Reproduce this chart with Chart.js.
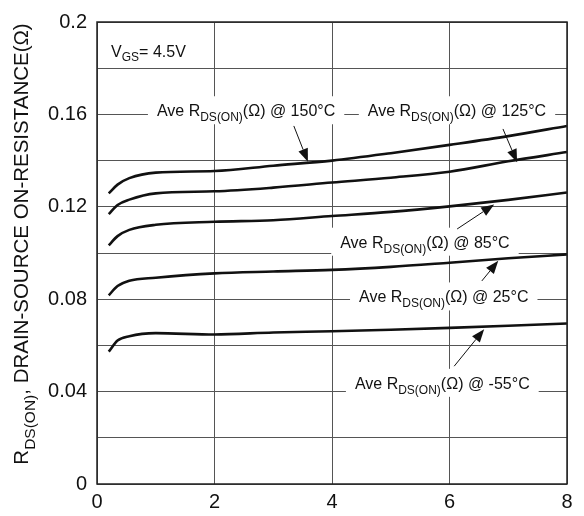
<!DOCTYPE html>
<html>
<head>
<meta charset="utf-8">
<script src="https://cdn.jsdelivr.net/npm/chart.js@4.4.0/dist/chart.umd.min.js"></script>
<style>
  html, body { margin: 0; padding: 0; background: #fff; }
  #wrap { width: 584px; height: 516px; }
</style>
</head>
<body>
<div id="wrap"><canvas id="chart" width="584" height="516"></canvas></div>
<script>
// drain current sample points (x axis) shared by every curve
const currentA = [0.2, 0.35, 0.55, 1, 2, 3, 4, 5, 6, 7, 8];

// Ave RDS(ON) in ohms
const r150 = [0.1258, 0.1296, 0.1324, 0.1348, 0.1355, 0.1378, 0.1400, 0.1432, 0.1468, 0.1506, 0.1550];
const r125 = [0.1168, 0.1208, 0.1231, 0.1258, 0.1267, 0.1283, 0.1305, 0.1326, 0.1352, 0.1397, 0.1437];
const r85  = [0.1033, 0.1073, 0.1100, 0.1122, 0.1135, 0.1142, 0.1160, 0.1178, 0.1202, 0.1230, 0.1262];
const r25  = [0.0817, 0.0857, 0.0880, 0.0893, 0.0912, 0.0920, 0.0927, 0.0940, 0.0958, 0.0977, 0.0994];
const rM55 = [0.0573, 0.0621, 0.0640, 0.0653, 0.0647, 0.0656, 0.0661, 0.0668, 0.0676, 0.0685, 0.0695];

const temps = ['150°C', '125°C', '85°C', '25°C', '-55°C'];
const seriesValues = [r150, r125, r85, r25, rM55];

// where each callout sits, in axis units (text start / baseline, arrow tail, arrow tip)
const labelX = [1.02, 4.61, 4.14, 4.46, 4.39];
const labelY = [0.1592, 0.1592, 0.1023, 0.0786, 0.0412];
const arrowFromX = [3.35, 6.91, 6.13, 6.55, 6.08];
const arrowFromY = [0.1550, 0.1537, 0.1104, 0.0879, 0.0510];
const arrowToX = [3.59, 7.15, 6.76, 6.83, 6.59];
const arrowToY = [0.1395, 0.1393, 0.1210, 0.0966, 0.0670];

// test condition note
const vgsX = 0.24, vgsY = 0.1847;

const FONT = '"Liberation Sans", Arial, Helvetica, sans-serif';

// draws text made of normal and subscript runs, returns total width
function drawRuns(ctx, x, y, runs, size, subSize, subDrop, measureOnly) {
  let cx = x;
  runs.forEach(r => {
    ctx.font = (r.sub ? subSize : size) + 'px ' + FONT;
    if (!measureOnly) ctx.fillText(r.t, cx, r.sub ? y + subDrop : y);
    cx += ctx.measureText(r.t).width;
  });
  return cx - x;
}

function arrow(ctx, x1, y1, x2, y2) {
  const a = Math.atan2(y2 - y1, x2 - x1);
  const len = 13, half = 5;
  ctx.beginPath();
  ctx.moveTo(x1, y1);
  ctx.lineTo(x2 - len * Math.cos(a), y2 - len * Math.sin(a));
  ctx.stroke();
  ctx.beginPath();
  ctx.moveTo(x2, y2);
  ctx.lineTo(x2 - len * Math.cos(a) + half * Math.sin(a), y2 - len * Math.sin(a) - half * Math.cos(a));
  ctx.lineTo(x2 - len * Math.cos(a) - half * Math.sin(a), y2 - len * Math.sin(a) + half * Math.cos(a));
  ctx.closePath();
  ctx.fill();
}

const calloutPlugin = {
  id: 'callouts',
  afterDatasetsDraw(chart) {
    const ctx = chart.ctx;
    const xs = chart.scales.x, ys = chart.scales.y;
    const area = chart.chartArea;
    ctx.save();
    ctx.textBaseline = 'alphabetic';
    ctx.textAlign = 'left';

    temps.forEach((t, i) => {
      const runs = [{ t: 'Ave R' }, { t: 'DS(ON)', sub: true }, { t: '(Ω) @ ' + t }];
      const px = xs.getPixelForValue(labelX[i]);
      const py = ys.getPixelForValue(labelY[i]);
      const w = drawRuns(ctx, px, py, runs, 16, 12, 5, true);
      ctx.fillStyle = '#fff';
      ctx.fillRect(px - 9, py - 20, w + 18, 28);
      ctx.fillStyle = '#111';
      drawRuns(ctx, px, py, runs, 16, 12, 5, false);

      ctx.strokeStyle = '#111';
      ctx.lineWidth = 1;
      arrow(ctx,
        xs.getPixelForValue(arrowFromX[i]), ys.getPixelForValue(arrowFromY[i]),
        xs.getPixelForValue(arrowToX[i]), ys.getPixelForValue(arrowToY[i]));
    });

    // VGS note
    ctx.fillStyle = '#111';
    drawRuns(ctx, xs.getPixelForValue(vgsX), ys.getPixelForValue(vgsY),
      [{ t: 'V' }, { t: 'GS', sub: true }, { t: '= 4.5V' }], 16, 12, 4, false);

    // frame
    ctx.strokeStyle = '#222';
    ctx.lineWidth = 1.5;
    ctx.strokeRect(area.left, area.top, area.right - area.left, area.bottom - area.top);

    // rotated y title with subscript
    const titleRuns = [{ t: 'R' }, { t: 'DS(ON)', sub: true }, { t: ', DRAIN-SOURCE ON-RESISTANCE(Ω)' }];
    ctx.translate(28, 244);
    ctx.rotate(-Math.PI / 2);
    const tw = drawRuns(ctx, 0, 0, titleRuns, 20.5, 15.5, 7, true);
    drawRuns(ctx, -tw / 2, 0, titleRuns, 20.5, 15.5, 7, false);
    ctx.restore();
  }
};

const datasets = seriesValues.map((vals, i) => ({
  label: temps[i],
  data: currentA.map((x, j) => ({ x: x, y: vals[j] })),
  borderColor: '#111',
  borderWidth: 2.6,
  pointRadius: 0,
  showLine: true,
  fill: false,
  cubicInterpolationMode: 'monotone'
}));

new Chart(document.getElementById('chart'), {
  type: 'scatter',
  data: { datasets: datasets },
  options: {
    responsive: false,
    animation: false,
    events: [],
    layout: { padding: { top: 13, right: 17, left: 0, bottom: 0 } },
    plugins: { legend: { display: false }, tooltip: { enabled: false } },
    scales: {
      x: {
        type: 'linear',
        min: 0, max: 8,
        afterFit: s => { s.height = 32; },
        grid: { color: '#555', lineWidth: 1, drawTicks: false },
        border: { display: false },
        ticks: {
          stepSize: 2, padding: 6, color: '#111',
          font: { size: 20, family: FONT }
        }
      },
      y: {
        type: 'linear',
        min: 0, max: 0.2,
        afterFit: s => { s.width = 97; },
        grid: { color: '#555', lineWidth: 1, drawTicks: false },
        border: { display: false },
        ticks: {
          stepSize: 0.02, padding: 10, color: '#111',
          font: { size: 20, family: FONT },
          callback: v => {
            const k = Math.round(v * 100);
            return k % 4 === 0 ? String(k / 100) : '';
          }
        }
      }
    }
  },
  plugins: [calloutPlugin]
});
</script>
</body>
</html>
